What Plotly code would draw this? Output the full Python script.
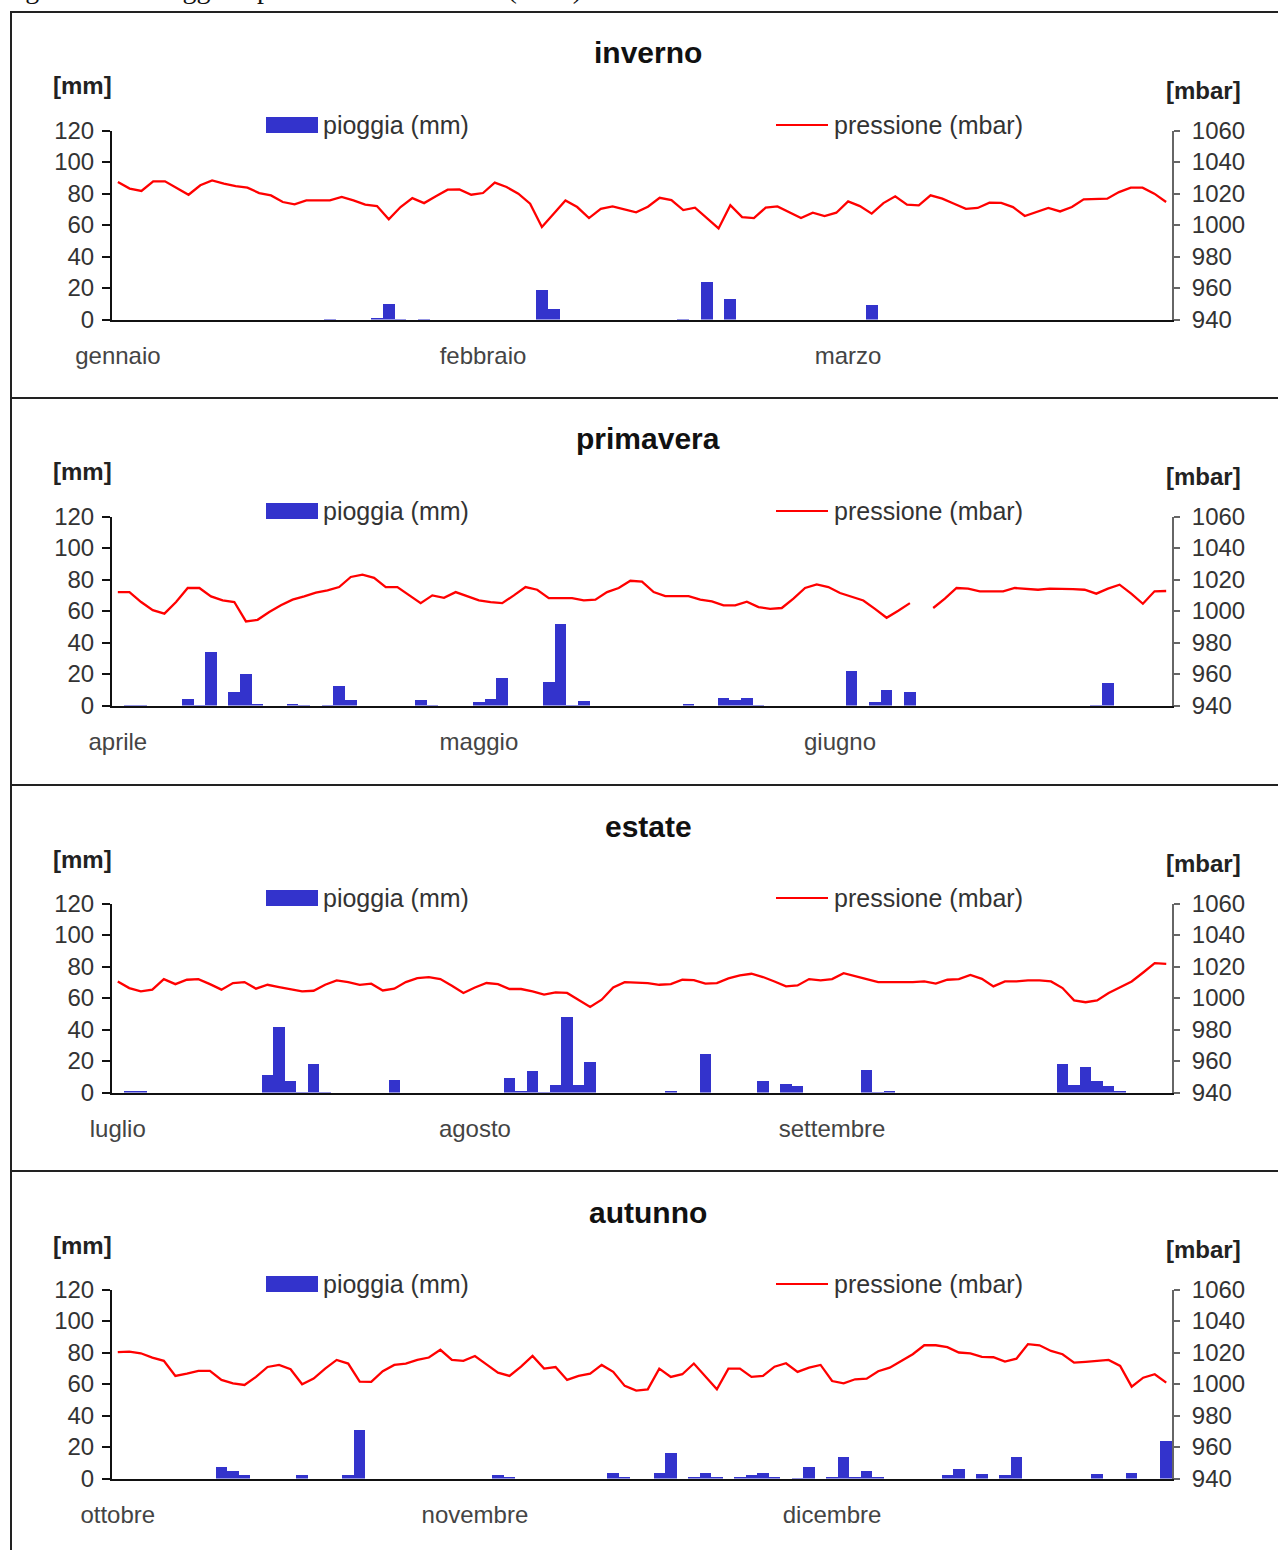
import plotly.graph_objects as go

W, H = 1278, 1550

# ---------------- data ----------------
seasons = ["inverno", "primavera", "estate", "autunno"]
month_labels = [
    ["gennaio", "febbraio", "marzo"],
    ["aprile", "maggio", "giugno"],
    ["luglio", "agosto", "settembre"],
    ["ottobre", "novembre", "dicembre"],
]
month_tick_days = [0, 31, 62]
mm_ticks = [0, 20, 40, 60, 80, 100, 120]
mbar_ticks = [940, 960, 980, 1000, 1020, 1040, 1060]

rain_inverno = [
    0, 0, 0, 0, 0, 0, 0, 0, 0, 0,
    0, 0, 0, 0, 0, 0, 0, 0, 0.4, 0,
    0, 0, 1.0, 10.4, 0.3, 0, 0.3, 0, 0, 0,
    0, 0, 0, 0, 0, 0, 18.9, 6.8, 0, 0,
    0, 0, 0, 0, 0, 0, 0, 0, 0.5, 0,
    24.4, 0, 13.1, 0, 0, 0, 0, 0, 0, 0,
    0, 0, 0, 0, 9.3, 0, 0, 0, 0, 0,
    0, 0, 0, 0, 0, 0, 0, 0, 0, 0,
    0, 0, 0, 0, 0, 0, 0, 0, 0, 0,
]
press_inverno = [
    1027.3, 1023.1, 1021.6, 1027.7, 1027.7, 1023.5, 1019.2, 1025.2, 1028.3, 1026.2,
    1024.7, 1023.7, 1020.3, 1018.8, 1014.6, 1013.1, 1015.6, 1015.6, 1015.6, 1017.8,
    1015.6, 1012.9, 1012.0, 1003.6, 1011.4, 1017.1, 1013.9, 1018.2, 1022.4, 1022.6,
    1019.2, 1020.3, 1026.9, 1024.1, 1019.9, 1013.5, 998.7, 1007.2, 1015.6, 1011.4,
    1004.4, 1010.3, 1011.8, 1009.9, 1008.0, 1011.6, 1017.3, 1015.8, 1009.5, 1011.0,
    1004.2, 997.8, 1012.5, 1005.0, 1004.4, 1011.0, 1011.8, 1008.2, 1004.4, 1007.8,
    1005.7, 1007.8, 1015.0, 1012.0, 1007.2, 1013.9, 1018.2, 1012.9, 1012.5, 1018.8,
    1016.7, 1013.5, 1010.3, 1010.8, 1014.2, 1014.0, 1011.4, 1005.7, 1008.2, 1010.8,
    1008.6, 1011.4, 1016.3, 1016.3, 1016.7, 1020.9, 1023.7, 1023.7, 1019.9, 1014.6,
]

rain_primavera = [
    0, 0.5, 0.5, 0, 0, 0, 4.7, 0.3, 34.3, 0,
    8.9, 20.1, 1.0, 0, 0, 1.0, 0.3, 0, 0.3, 12.7,
    3.8, 0, 0, 0, 0, 0, 3.8, 0.5, 0, 0,
    0, 2.5, 4.7, 17.6, 0, 0, 0, 15.3, 52.3, 0.5,
    3.2, 0, 0, 0, 0, 0, 0, 0, 0, 1.0,
    0, 0, 4.9, 3.8, 5.3, 0.3, 0, 0, 0, 0,
    0, 0, 0, 22.2, 0, 2.3, 10.2, 0, 8.7, 0,
    0, 0, 0, 0, 0, 0, 0, 0, 0, 0,
    0, 0, 0, 0, 0.5, 14.8, 0, 0, 0, 0,
    0,
]
press_primavera = [
    1012.0, 1012.0, 1005.7, 1000.5, 998.3, 1005.7, 1014.6, 1014.6, 1009.3, 1006.8,
    1005.7, 993.4, 994.4, 999.3, 1003.6, 1007.2, 1009.3, 1011.6, 1013.1, 1015.2,
    1021.6, 1023.1, 1021.1, 1015.2, 1015.2, 1009.9, 1005.0, 1009.9, 1008.4, 1012.0,
    1009.3, 1006.8, 1005.7, 1005.0, 1009.9, 1015.2, 1013.5, 1008.2, 1008.2, 1008.2,
    1006.8, 1007.2, 1012.0, 1014.6, 1019.2, 1018.6, 1012.0, 1009.5, 1009.5, 1009.5,
    1007.2, 1006.1, 1003.6, 1003.6, 1005.9, 1002.5, 1001.4, 1001.9, 1007.8, 1014.6,
    1016.9, 1015.2, 1011.4, 1008.8, 1006.7, 1001.4, 995.7, 1000.2, 1005.0, None,
    1001.9, 1007.8, 1014.6, 1014.2, 1012.5, 1012.5, 1012.5, 1014.6, 1014.2, 1013.5,
    1014.2, 1014.2, 1013.9, 1013.5, 1011.0, 1014.2, 1016.7, 1011.0, 1004.6, 1012.5,
    1012.7,
]

rain_estate = [
    0, 0.8, 0.8, 0, 0, 0, 0, 0, 0, 0,
    0, 0, 0, 11.2, 42.1, 7.4, 0.5, 18.5, 0.5, 0,
    0, 0, 0, 0, 8.0, 0, 0, 0, 0, 0,
    0, 0, 0, 0, 9.5, 1.0, 13.7, 0.5, 5.3, 48.4,
    5.3, 19.4, 0, 0, 0, 0, 0, 0, 1.0, 0,
    0, 24.6, 0, 0, 0, 0, 7.4, 0, 5.7, 4.2,
    0, 0, 0, 0, 0, 14.3, 0.6, 1.3, 0, 0,
    0, 0, 0, 0, 0, 0, 0, 0, 0, 0,
    0, 0, 18.5, 4.8, 16.8, 7.8, 4.2, 1.3, 0, 0,
    0, 0,
]
press_estate = [
    1010.5, 1006.3, 1004.2, 1005.3, 1012.0, 1008.8, 1011.6, 1012.0, 1008.8, 1005.3,
    1009.5, 1010.1, 1005.9, 1008.4, 1006.9, 1005.7, 1004.2, 1004.6, 1008.4, 1011.2,
    1010.1, 1008.4, 1009.1, 1004.8, 1005.9, 1010.1, 1012.6, 1013.3, 1012.0, 1007.8,
    1003.2, 1006.7, 1009.5, 1008.8, 1005.7, 1005.7, 1004.2, 1002.1, 1003.6, 1003.2,
    998.9, 994.3, 998.9, 1006.7, 1010.1, 1009.8, 1009.5, 1008.4, 1008.8, 1011.6,
    1011.4, 1009.1, 1009.5, 1012.4, 1014.3, 1015.4, 1013.3, 1010.5, 1007.4, 1008.0,
    1012.0, 1011.2, 1012.0, 1015.8, 1013.7, 1012.0, 1010.1, 1010.1, 1009.9, 1010.1,
    1010.5, 1009.1, 1011.6, 1012.0, 1014.7, 1012.2, 1007.4, 1010.5, 1010.5, 1011.2,
    1011.2, 1010.5, 1006.3, 998.5, 997.3, 998.5, 1003.2, 1006.9, 1010.5, 1016.2,
    1022.1, 1021.7,
]

rain_autunno = [
    0, 0, 0, 0, 0, 0, 0, 0, 0, 7.4,
    5.1, 2.5, 0, 0, 0, 0, 2.5, 0, 0, 0,
    2.5, 30.8, 0, 0, 0, 0, 0, 0, 0, 0,
    0, 0, 0, 2.5, 1.2, 0, 0, 0, 0, 0,
    0, 0, 0, 3.6, 1.5, 0, 0, 4.0, 16.8, 0,
    1.3, 3.6, 1.5, 0, 0.8, 2.5, 4.0, 1.5, 0, 0.5,
    7.4, 0, 1.5, 14.2, 1.5, 5.3, 1.5, 0, 0, 0,
    0, 0, 2.5, 6.6, 0, 3.4, 0, 2.5, 14.2, 0,
    0, 0, 0, 0, 0, 3.4, 0, 0, 3.6, 0,
    0, 24.2,
]
press_autunno = [
    1020.2, 1020.6, 1019.5, 1016.8, 1014.7, 1005.1, 1006.6, 1008.3, 1008.3, 1002.6,
    1000.4, 999.4, 1004.5, 1010.8, 1012.1, 1009.4, 999.8, 1003.4, 1009.8, 1015.3,
    1013.0, 1001.5, 1001.3, 1008.1, 1012.1, 1013.0, 1015.3, 1016.8, 1021.7, 1015.3,
    1014.7, 1017.8, 1012.5, 1007.2, 1005.1, 1011.0, 1017.8, 1009.8, 1010.8, 1002.6,
    1005.1, 1006.6, 1012.1, 1007.7, 998.8, 995.8, 996.6, 1009.8, 1004.5, 1006.2,
    1013.0, 1005.1, 996.6, 1009.8, 1009.8, 1004.5, 1005.1, 1011.0, 1013.2, 1007.7,
    1010.4, 1012.1, 1001.9, 1000.4, 1003.0, 1003.4, 1008.1, 1010.4, 1014.7, 1018.9,
    1024.6, 1024.6, 1023.4, 1020.0, 1019.5, 1017.2, 1017.0, 1014.2, 1016.1, 1025.3,
    1024.6, 1021.0, 1018.9, 1013.6, 1014.1, 1014.5, 1015.3, 1011.5, 998.3, 1004.0,
    1006.2, 1000.9,
]

rain_all = [rain_inverno, rain_primavera, rain_estate, rain_autunno]
press_all = [press_inverno, press_primavera, press_estate, press_autunno]

# ---------------- styling ----------------
FONT = "Liberation Sans, Arial, Helvetica, sans-serif"
BAR_COLOR = "#3333CC"
LINE_COLOR = "#FF0000"
FRAME = "#222222"

def fx(px):
    return px / W

def fy(py):
    return 1 - py / H

def ref(prefix, n):
    return prefix if n == 1 else f"{prefix}{n}"

offsets = [0, 386, 773, 1159]
frame_y = [12, 398, 785, 1171]

fig = go.Figure()
layout = dict(
    width=W, height=H, autosize=False,
    margin=dict(l=0, r=0, t=0, b=0, pad=0, autoexpand=False),
    paper_bgcolor="white", plot_bgcolor="white",
    showlegend=False, bargap=0,
    font=dict(family=FONT, size=24, color="#333"),
)
shapes = []
annotations = []

for i, season in enumerate(seasons):
    off = offsets[i]
    xn, yl, yr = i + 1, 2 * i + 1, 2 * i + 2
    days = list(range(len(rain_all[i])))

    fig.add_trace(go.Bar(
        x=days, y=rain_all[i], name="pioggia (mm)",
        marker=dict(color=BAR_COLOR, line=dict(width=0)),
        xaxis=ref("x", xn), yaxis=ref("y", yl),
    ))
    fig.add_trace(go.Scatter(
        x=days, y=press_all[i], name="pressione (mbar)", mode="lines",
        line=dict(color=LINE_COLOR, width=2.3), connectgaps=False,
        xaxis=ref("x", xn), yaxis=ref("y", yr),
    ))

    ydom = [fy(319.5 + off), fy(130.5 + off)]
    layout[ref("xaxis", xn)] = dict(
        domain=[fx(112), fx(1172)], anchor=ref("y", yl), automargin=False,
        range=[-0.5, len(days) - 0.5], showgrid=False, zeroline=False,
        showline=True, linecolor="#111", linewidth=2, ticks="",
        tickmode="array", tickvals=month_tick_days, ticktext=month_labels[i],
        tickfont=dict(size=24, color="#444"), ticklabelstandoff=14,
        fixedrange=True,
    )
    layout[ref("yaxis", yl)] = dict(
        domain=ydom, anchor=ref("x", xn), range=[0, 120], automargin=False,
        tickmode="array", tickvals=mm_ticks, showgrid=False, zeroline=False,
        showline=True, linecolor="#111", linewidth=2,
        ticks="outside", ticklen=8, tickwidth=2, tickcolor="#111",
        tickfont=dict(size=24, color="#333"), ticklabelstandoff=3,
        fixedrange=True,
    )
    layout[ref("yaxis", yr)] = dict(
        overlaying=ref("y", yl), anchor=ref("x", xn), side="right",
        range=[940, 1060], tickmode="array", tickvals=mbar_ticks, automargin=False,
        showgrid=False, zeroline=False,
        showline=True, linecolor="#666", linewidth=2,
        ticks="outside", ticklen=6, tickwidth=2, tickcolor="#666",
        tickfont=dict(size=24, color="#333"), ticklabelstandoff=7,
        fixedrange=True,
    )

    # title and unit labels
    annotations.append(dict(
        text=f"<b>{season}</b>", xref="paper", yref="paper",
        x=fx(648), y=fy(53 + off), xanchor="center", yanchor="middle",
        showarrow=False, font=dict(family=FONT, size=30, color="#111"),
    ))
    annotations.append(dict(
        text="<b>[mm]</b>", xref="paper", yref="paper",
        x=fx(83), y=fy(86 + off), xanchor="center", yanchor="middle",
        showarrow=False, font=dict(family=FONT, size=24, color="#222"),
    ))
    annotations.append(dict(
        text="<b>[mbar]</b>", xref="paper", yref="paper",
        x=fx(1203), y=fy(90 + off), xanchor="center", yanchor="middle",
        showarrow=False, font=dict(family=FONT, size=24, color="#222"),
    ))
    # legend (drawn manually to match layout)
    shapes.append(dict(
        type="rect", xref="paper", yref="paper",
        x0=fx(266), x1=fx(318), y0=fy(133 + off), y1=fy(117 + off),
        fillcolor=BAR_COLOR, line=dict(width=0),
    ))
    annotations.append(dict(
        text="pioggia (mm)", xref="paper", yref="paper",
        x=fx(321), y=fy(125 + off), xanchor="left", yanchor="middle",
        showarrow=False, font=dict(family=FONT, size=25, color="#333"),
    ))
    shapes.append(dict(
        type="line", xref="paper", yref="paper",
        x0=fx(776), x1=fx(828), y0=fy(125 + off), y1=fy(125 + off),
        line=dict(color=LINE_COLOR, width=2),
    ))
    annotations.append(dict(
        text="pressione (mbar)", xref="paper", yref="paper",
        x=fx(832), y=fy(125 + off), xanchor="left", yanchor="middle",
        showarrow=False, font=dict(family=FONT, size=25, color="#333"),
    ))
    # panel frame line
    shapes.append(dict(
        type="line", xref="paper", yref="paper",
        x0=fx(10), x1=fx(1278), y0=fy(frame_y[i]), y1=fy(frame_y[i]),
        line=dict(color=FRAME, width=2),
    ))

shapes.append(dict(
    type="line", xref="paper", yref="paper",
    x0=fx(11), x1=fx(11), y0=fy(11), y1=fy(1550),
    line=dict(color=FRAME, width=2),
))

# caption, cut off by the top edge as in the original page
annotations.append(dict(
    text="Figura 3.3 – Pioggia e pressione atmosferica (1997)",
    xref="paper", yref="paper", x=0, y=fy(6),
    xanchor="left", yanchor="bottom", showarrow=False,
    font=dict(family="Liberation Serif, Times New Roman, serif", size=28, color="#111"),
))

layout["shapes"] = shapes
layout["annotations"] = annotations
fig.update_layout(**layout)
fig.write_html("out.html")
